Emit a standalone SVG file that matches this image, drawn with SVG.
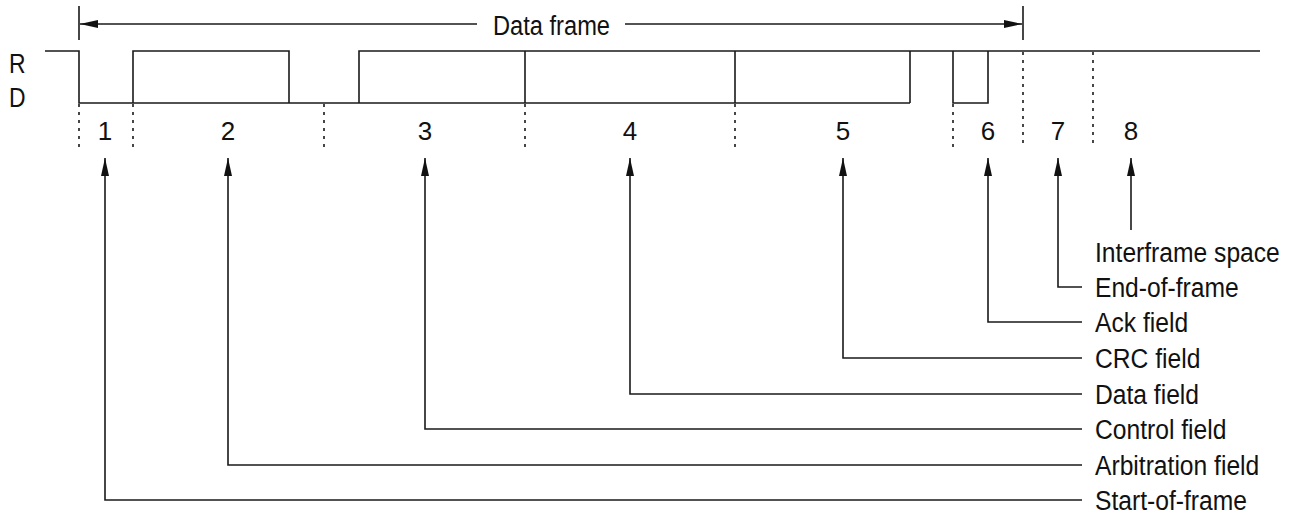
<svg xmlns="http://www.w3.org/2000/svg" width="1292" height="521" viewBox="0 0 1292 521">
<style>
  .ln{fill:none;stroke:#1a1a1a;stroke-width:1.6}
  .dot{fill:none;stroke:#1a1a1a;stroke-width:1.6;stroke-dasharray:3 5}
  .t{font-family:"Liberation Sans",Arial,sans-serif;fill:#111}
  .lab{font-size:28px}
  .num{font-size:26px;text-anchor:middle}
</style>
<defs>
  <marker id="ah" viewBox="0 0 18 8" refX="18" refY="4" markerWidth="18" markerHeight="8" markerUnits="userSpaceOnUse" orient="auto-start-reverse">
    <path d="M0,0 L18,4 L0,8 z" fill="#111"/>
  </marker>
</defs>
<rect width="1292" height="521" fill="#fff"/>

<g id="frame-dimension">
  <path class="ln" d="M79,6 V40 M1023,6 V40"/>
  <path class="ln" d="M477,24 H80" marker-end="url(#ah)"/>
  <path class="ln" d="M625,24 H1022" marker-end="url(#ah)"/>
  <text class="t" x="493" y="35" font-size="27" textLength="117" lengthAdjust="spacingAndGlyphs">Data frame</text>
</g>

<g id="levels">
  <text class="t" transform="matrix(0.85 0 0 1 9 73)" font-size="27">R</text>
  <text class="t" transform="matrix(0.85 0 0 1 9 107)" font-size="27">D</text>
</g>

<g id="waveform">
  <path class="ln" d="M45,51 H79 V103 H910 M133,103 V51 H289 V103 M359,103 V51 H1260 M525,51 V103 M735,51 V103 M910,51 V103 M953,51 V103 H988 V51"/>
  <path class="dot" d="M79,104 V152 M133,104 V152 M324,104 V152 M525,104 V152 M735,104 V152 M953,104 V152 M1023,52 V145 M1093,52 V145"/>
</g>

<g id="field-numbers">
  <text class="t num" x="105" y="140">1</text>
  <text class="t num" x="228" y="140">2</text>
  <text class="t num" x="425" y="140">3</text>
  <text class="t num" x="630" y="140">4</text>
  <text class="t num" x="843" y="140">5</text>
  <text class="t num" x="988" y="140">6</text>
  <text class="t num" x="1058" y="140">7</text>
  <text class="t num" x="1131" y="140">8</text>
</g>

<g id="connectors">
  <path class="ln" d="M105,158 V500 H1082" marker-start="url(#ah)"/>
  <path class="ln" d="M228,158 V465 H1082" marker-start="url(#ah)"/>
  <path class="ln" d="M425,158 V429 H1082" marker-start="url(#ah)"/>
  <path class="ln" d="M630,158 V394 H1082" marker-start="url(#ah)"/>
  <path class="ln" d="M843,158 V358 H1082" marker-start="url(#ah)"/>
  <path class="ln" d="M988,158 V322 H1082" marker-start="url(#ah)"/>
  <path class="ln" d="M1058,158 V287 H1082" marker-start="url(#ah)"/>
  <path class="ln" d="M1131,158 V230" marker-start="url(#ah)"/>
</g>

<g id="label-interframe"><text class="t lab" transform="matrix(0.88 0 0 1 1095 262)">Interframe space</text></g>
<g id="label-eof"><text class="t lab" transform="matrix(0.88 0 0 1 1095 297)">End-of-frame</text></g>
<g id="label-ack"><text class="t lab" transform="matrix(0.88 0 0 1 1095 332)">Ack field</text></g>
<g id="label-crc"><text class="t lab" transform="matrix(0.88 0 0 1 1095 368)">CRC field</text></g>
<g id="label-data"><text class="t lab" transform="matrix(0.88 0 0 1 1095 404)">Data field</text></g>
<g id="label-control"><text class="t lab" transform="matrix(0.88 0 0 1 1095 439)">Control field</text></g>
<g id="label-arbitration"><text class="t lab" transform="matrix(0.88 0 0 1 1095 475)">Arbitration field</text></g>
<g id="label-sof"><text class="t lab" transform="matrix(0.88 0 0 1 1095 510)">Start-of-frame</text></g>
</svg>
